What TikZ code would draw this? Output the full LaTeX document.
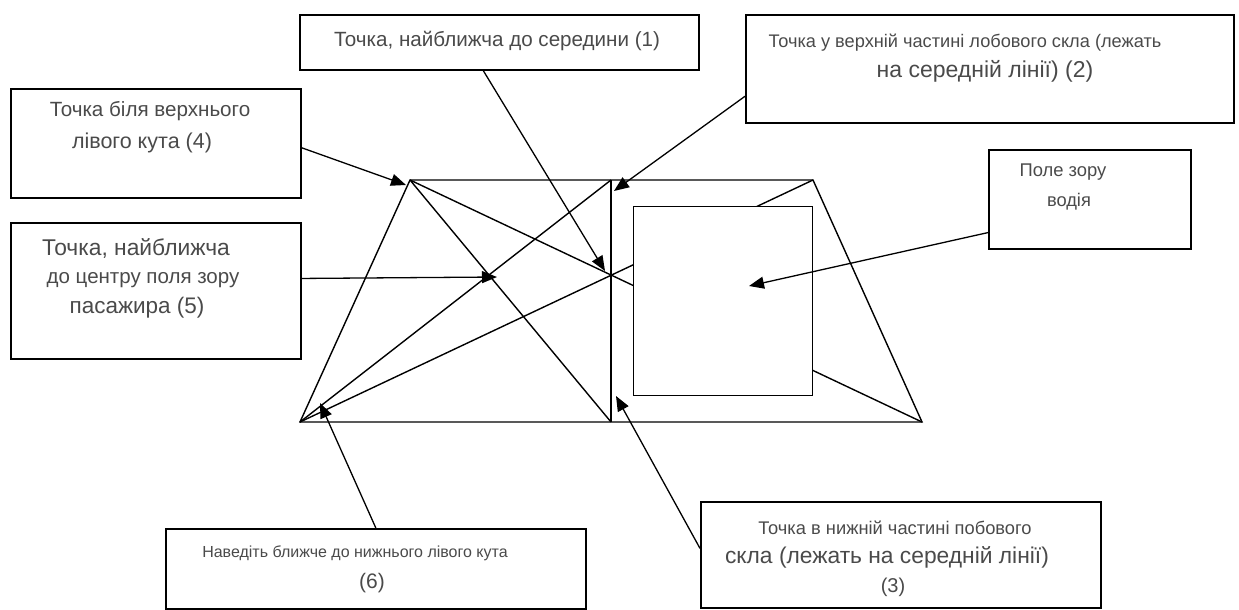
\documentclass[tikz,border=0pt]{standalone}
\usepackage{fontspec}
\setmainfont{Liberation Sans}
\usepackage{xcolor}
\usetikzlibrary{arrows.meta,calc}
\definecolor{txtgray}{HTML}{4A4A4A}
\tikzset{
  box/.style={draw, line width=1.7pt, anchor=north west, inner sep=0pt},
  lbl/.style={text=txtgray, inner sep=0pt, font=\fontsize{#1}{#1}\selectfont},
  arr/.style={line width=1.3pt, -{Triangle[length=15pt,width=12pt]}},
}
\begin{document}
\begin{tikzpicture}[x=1pt,y=-1pt,line width=1.4pt]
\useasboundingbox (0,0) rectangle (1239,610);
% windscreen
\coordinate (TL) at (410,180);
\coordinate (TR) at (813,180);
\coordinate (BL) at (300,422);
\coordinate (BR) at (922,422);
\coordinate (TM) at (611,180);
\coordinate (BM) at (611,422);
\draw (BL) -- (TL) -- (TR) -- (BR) -- cycle;
\draw (TM) -- (BM);
\draw (TL) -- (BM);
\draw (TL) -- (BR);
\draw (BL) -- (TM);
\draw (BL) -- (TR);
\node[box, line width=1.4pt, fill=white, minimum width=179pt, minimum height=189pt] (field) at (633,206) {};
% points
\coordinate (p1) at (605,271);
\coordinate (p2) at (614,191);
\coordinate (p3) at (616,396);
\coordinate (p4) at (406,185);
\coordinate (p5) at (497,277);
\coordinate (p6) at (320,403);
\coordinate (pd) at (749,286);
% boxes
\node[box, minimum width=399pt, minimum height=55pt] (b1) at (299,14) {};
\node[box, minimum width=488pt, minimum height=108pt] (b2) at (745,14) {};
\node[box, minimum width=400pt, minimum height=106pt] (b3) at (700,501) {};
\node[box, minimum width=290pt, minimum height=109pt] (b4) at (10,88) {};
\node[box, minimum width=290pt, minimum height=136pt] (b5) at (10,222) {};
\node[box, minimum width=420pt, minimum height=80pt] (b6) at (165,528) {};
\node[box, minimum width=202pt, minimum height=99pt] (bd) at (988,149) {};
% labels
\node[lbl=20.6] (t1) at (497,41) {Точка, найближча до середини (1)};
\node[lbl=18.2] (t2a) at (965,43) {Точка у верхній частині лобового скла (лежать};
\node[lbl=23] (t2b) at (985,71) {на середній лінії) (2)};
\node[lbl=18.3] (t3a) at (895,528) {Точка в нижній частині побового};
\node[lbl=22.8] (t3b) at (887,557) {скла (лежать на середній лінії)};
\node[lbl=20] (t3c) at (893,587) {(3)};
\node[lbl=20.6] (t4a) at (150,111) {Точка біля верхнього};
\node[lbl=21.5] (t4b) at (142,143) {лівого кута (4)};
\node[lbl=22.8] (t5a) at (136,248) {Точка, найближча};
\node[lbl=20.5] (t5b) at (143,280) {до центру поля зору};
\node[lbl=22.5] (t5c) at (137,308) {пасажира (5)};
\node[lbl=16] (t6a) at (355,553) {Наведіть ближче до нижнього лівого кута};
\node[lbl=21] (t6b) at (372,583) {(6)};
\node[lbl=18.4] (tda) at (1063,172) {Поле зору};
\node[lbl=18.3] (tdb) at (1069,202) {водія};
% arrows
\draw[arr] ($(b1.south west)!0.46!(b1.south east)$) -- (p1);
\draw[arr] ($(b2.north west)!0.75!(b2.south west)$) -- (p2);
\draw[arr] ($(b3.north west)!0.44!(b3.south west)$) -- (p3);
\draw[arr] ($(b4.north east)!0.54!(b4.south east)$) -- (p4);
\draw[arr] ($(b5.north east)!0.41!(b5.south east)$) -- (p5);
\draw[arr] ($(b6.north west)!0.5!(b6.north east)$) -- (p6);
\draw[arr] ($(bd.north west)!0.83!(bd.south west)$) -- (pd);
\end{tikzpicture}
\end{document}
